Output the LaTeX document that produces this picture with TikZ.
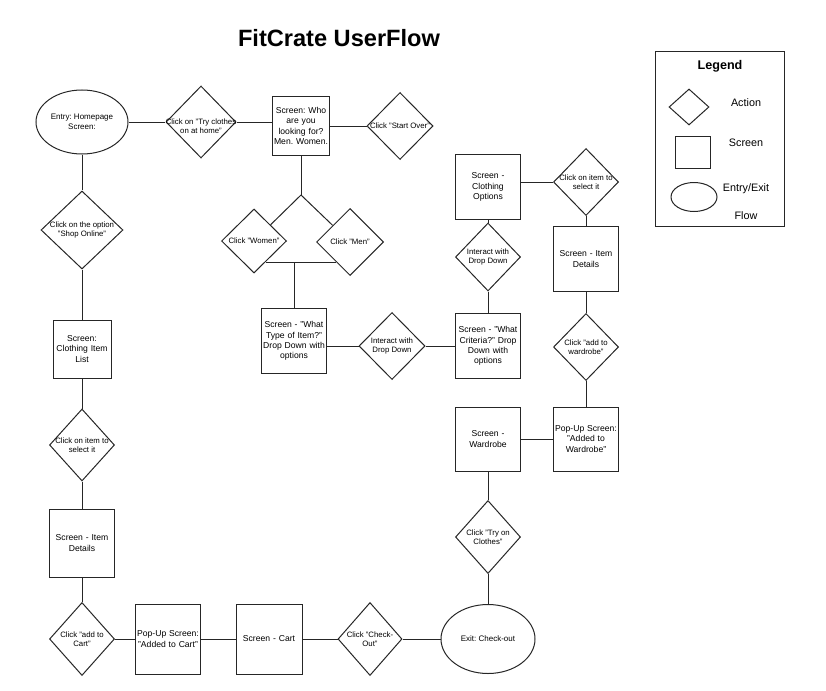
\documentclass[tikz,border=0pt]{standalone}
\usepackage{fontspec}
\setmainfont{Liberation Sans}
\usepackage{tikz}
\usetikzlibrary{shapes.geometric}
\usetikzlibrary{calc}
\frenchspacing
\tikzstyle{line} = [line width=1pt, draw=black!85]
\tikzstyle{screen} = [draw=black!85, line width=1pt, rectangle, minimum width=65pt, minimum height=65pt, inner sep=0pt, text width=64pt, align=center, font=\fontsize{8.6}{10.2}\selectfont]
\tikzstyle{action} = [draw=black!85, line width=1pt, diamond, minimum width=65pt, minimum height=68pt, inner sep=0pt]
\tikzstyle{acttext} = [align=center, inner sep=0pt, font=\fontsize{7.8}{9.2}\selectfont]
\tikzstyle{flow} = [draw=black!85, line width=1pt, ellipse, inner sep=0pt, align=center, font=\fontsize{8}{10.5}\selectfont]
\tikzstyle{legendtext} = [inner sep=0pt, align=center, font=\fontsize{10.8}{13}\selectfont]

\begin{document}
\begin{tikzpicture}[x=1pt,y=-1pt]
\useasboundingbox (0,0) rectangle (826,690);

\node[font=\bfseries\fontsize{23.6}{28}\selectfont] (title) at (339,38) {FitCrate UserFlow};

% top row
\node[flow, minimum width=92pt, minimum height=64pt] (entry) at (82,122) {Entry: Homepage\\Screen:};
\node[action, minimum width=70pt, minimum height=72pt, label={[acttext, yshift=-4pt]center:{Click on "Try clothes\\on at home"}}] (tryhome) at (201,122) {};
\node[screen, minimum width=57pt, minimum height=58pt, text width=57pt] (who) at (301,126) {Screen: Who\\are you\\looking for?\\Men. Women.};
\node[action, minimum width=66pt, minimum height=67pt, label={[acttext]center:{Click "Start Over"}}] (startover) at (400,126) {};

% men / women branch
\coordinate (fork) at (301,195);
\node[action, minimum width=65pt, minimum height=64pt, label={[acttext]center:{Click "Women"}}] (women) at (254,241) {};
\node[action, minimum width=67pt, minimum height=67pt, label={[acttext]center:{Click "Men"}}] (men) at (350,242) {};
\coordinate (mergeL) at (266,262);
\coordinate (mergeR) at (336,262);
\coordinate (merge) at (294,262);
\node[screen] (typeitem) at (294,341) {Screen - "What\\Type of Item?"\\Drop Down with\\options};
\node[action, minimum width=66pt, minimum height=67pt, label={[acttext]center:{Interact with\\Drop Down}}] (interact1) at (392,346) {};

% middle column
\node[screen] (criteria) at (488,346) {Screen - "What\\Criteria?" Drop\\Down with\\options};
\node[action, label={[acttext]center:{Interact with\\Drop Down}}] (interact2) at (488,257) {};
\node[screen] (clothopts) at (488,187) {Screen -\\Clothing\\Options};
\node[screen, minimum height=64pt] (wardrobe) at (488,439) {Screen -\\Wardrobe};
\node[action, minimum height=73pt, label={[acttext]center:{Click "Try on\\Clothes"}}] (tryon) at (488,537) {};
\node[flow, minimum width=94pt, minimum height=69pt] (exit) at (488,639) {Exit: Check-out};

% right column
\node[action, minimum height=67pt, label={[acttext]center:{Click on item to\\select it}}] (selectR) at (586,182) {};
\node[screen] (detailsR) at (586,259) {Screen - Item\\Details};
\node[action, minimum height=67pt, label={[acttext]center:{Click "add to\\wardrobe"}}] (addwr) at (586,347) {};
\node[screen, minimum height=64pt] (popwr) at (586,439) {Pop-Up Screen:\\"Added to\\Wardrobe"};

% left column
\node[action, minimum width=82pt, minimum height=78pt, label={[acttext]center:{Click on the option\\"Shop Online"}}] (shoponline) at (82,230) {};
\node[screen, minimum width=58pt, minimum height=58pt, text width=58pt] (itemlist) at (82,349) {Screen:\\Clothing Item\\List};
\node[action, minimum height=72pt, label={[acttext]center:{Click on item to\\select it}}] (selectL) at (82,445) {};
\node[screen, minimum height=68pt] (detailsL) at (82,543) {Screen - Item\\Details};

% bottom row
\node[action, minimum height=73pt, label={[acttext]center:{Click "add to\\Cart"}}] (addcart) at (82,639) {};
\node[screen, minimum height=70pt] (popcart) at (168,639) {Pop-Up Screen:\\"Added to Cart"};
\node[screen, minimum width=66pt, minimum height=70pt] (cart) at (269,639) {Screen - Cart};
\node[action, minimum width=64pt, minimum height=73pt, label={[acttext]center:{Click "Check-\\Out"}}] (checkout) at (370,639) {};

% connectors
\draw [line] (entry) -- (tryhome);
\draw [line] (tryhome.east) -- (tryhome.east -| who.west);
\draw [line] (who) -- (startover);
\draw [line] (who) -- (fork);
\draw [line] (fork) -- (women);
\draw [line] (fork) -- (men);
\draw [line] (mergeL) -- (mergeR);
\draw [line] (merge) -- (typeitem);
\draw [line] (interact1.west) -- (interact1.west -| typeitem.east);
\draw [line] (interact1) -- (criteria) -- (interact2) -- (clothopts);
\draw [line] (selectR.west) -- (selectR.west -| clothopts.east);
\draw [line] (selectR) -- (detailsR) -- (addwr) -- (popwr) -- (wardrobe) -- (tryon) -- (exit);
\draw [line] (entry) -- (shoponline) -- (itemlist) -- (selectL) -- (detailsL) -- (addcart);
\draw [line] (addcart) -- (popcart) -- (cart) -- (checkout) -- (exit);

% legend
\node[draw=black!85, line width=1pt, minimum width=129pt, minimum height=174pt] (legend) at (719.5,139) {};
\node[font=\bfseries\fontsize{12.6}{15}\selectfont] (legendtitle) at (720,66) {Legend};
\node[action, minimum width=40pt, minimum height=36pt] (keyaction) at (689,107) {};
\node[legendtext] (keyactiontext) at (746,103) {Action};
\node[draw=black!85, line width=1pt, minimum width=35pt, minimum height=32pt] (keyscreen) at (693,152) {};
\node[legendtext] (keyscreentext) at (746,143) {Screen};
\node[draw=black!85, line width=1pt, ellipse, minimum width=46pt, minimum height=29pt] (keyflow) at (694,197) {};
\node[legendtext, font=\fontsize{10.8}{28}\selectfont] (keyflowtext) at (746,202) {Entry/Exit\\Flow};

\end{tikzpicture}
\end{document}
